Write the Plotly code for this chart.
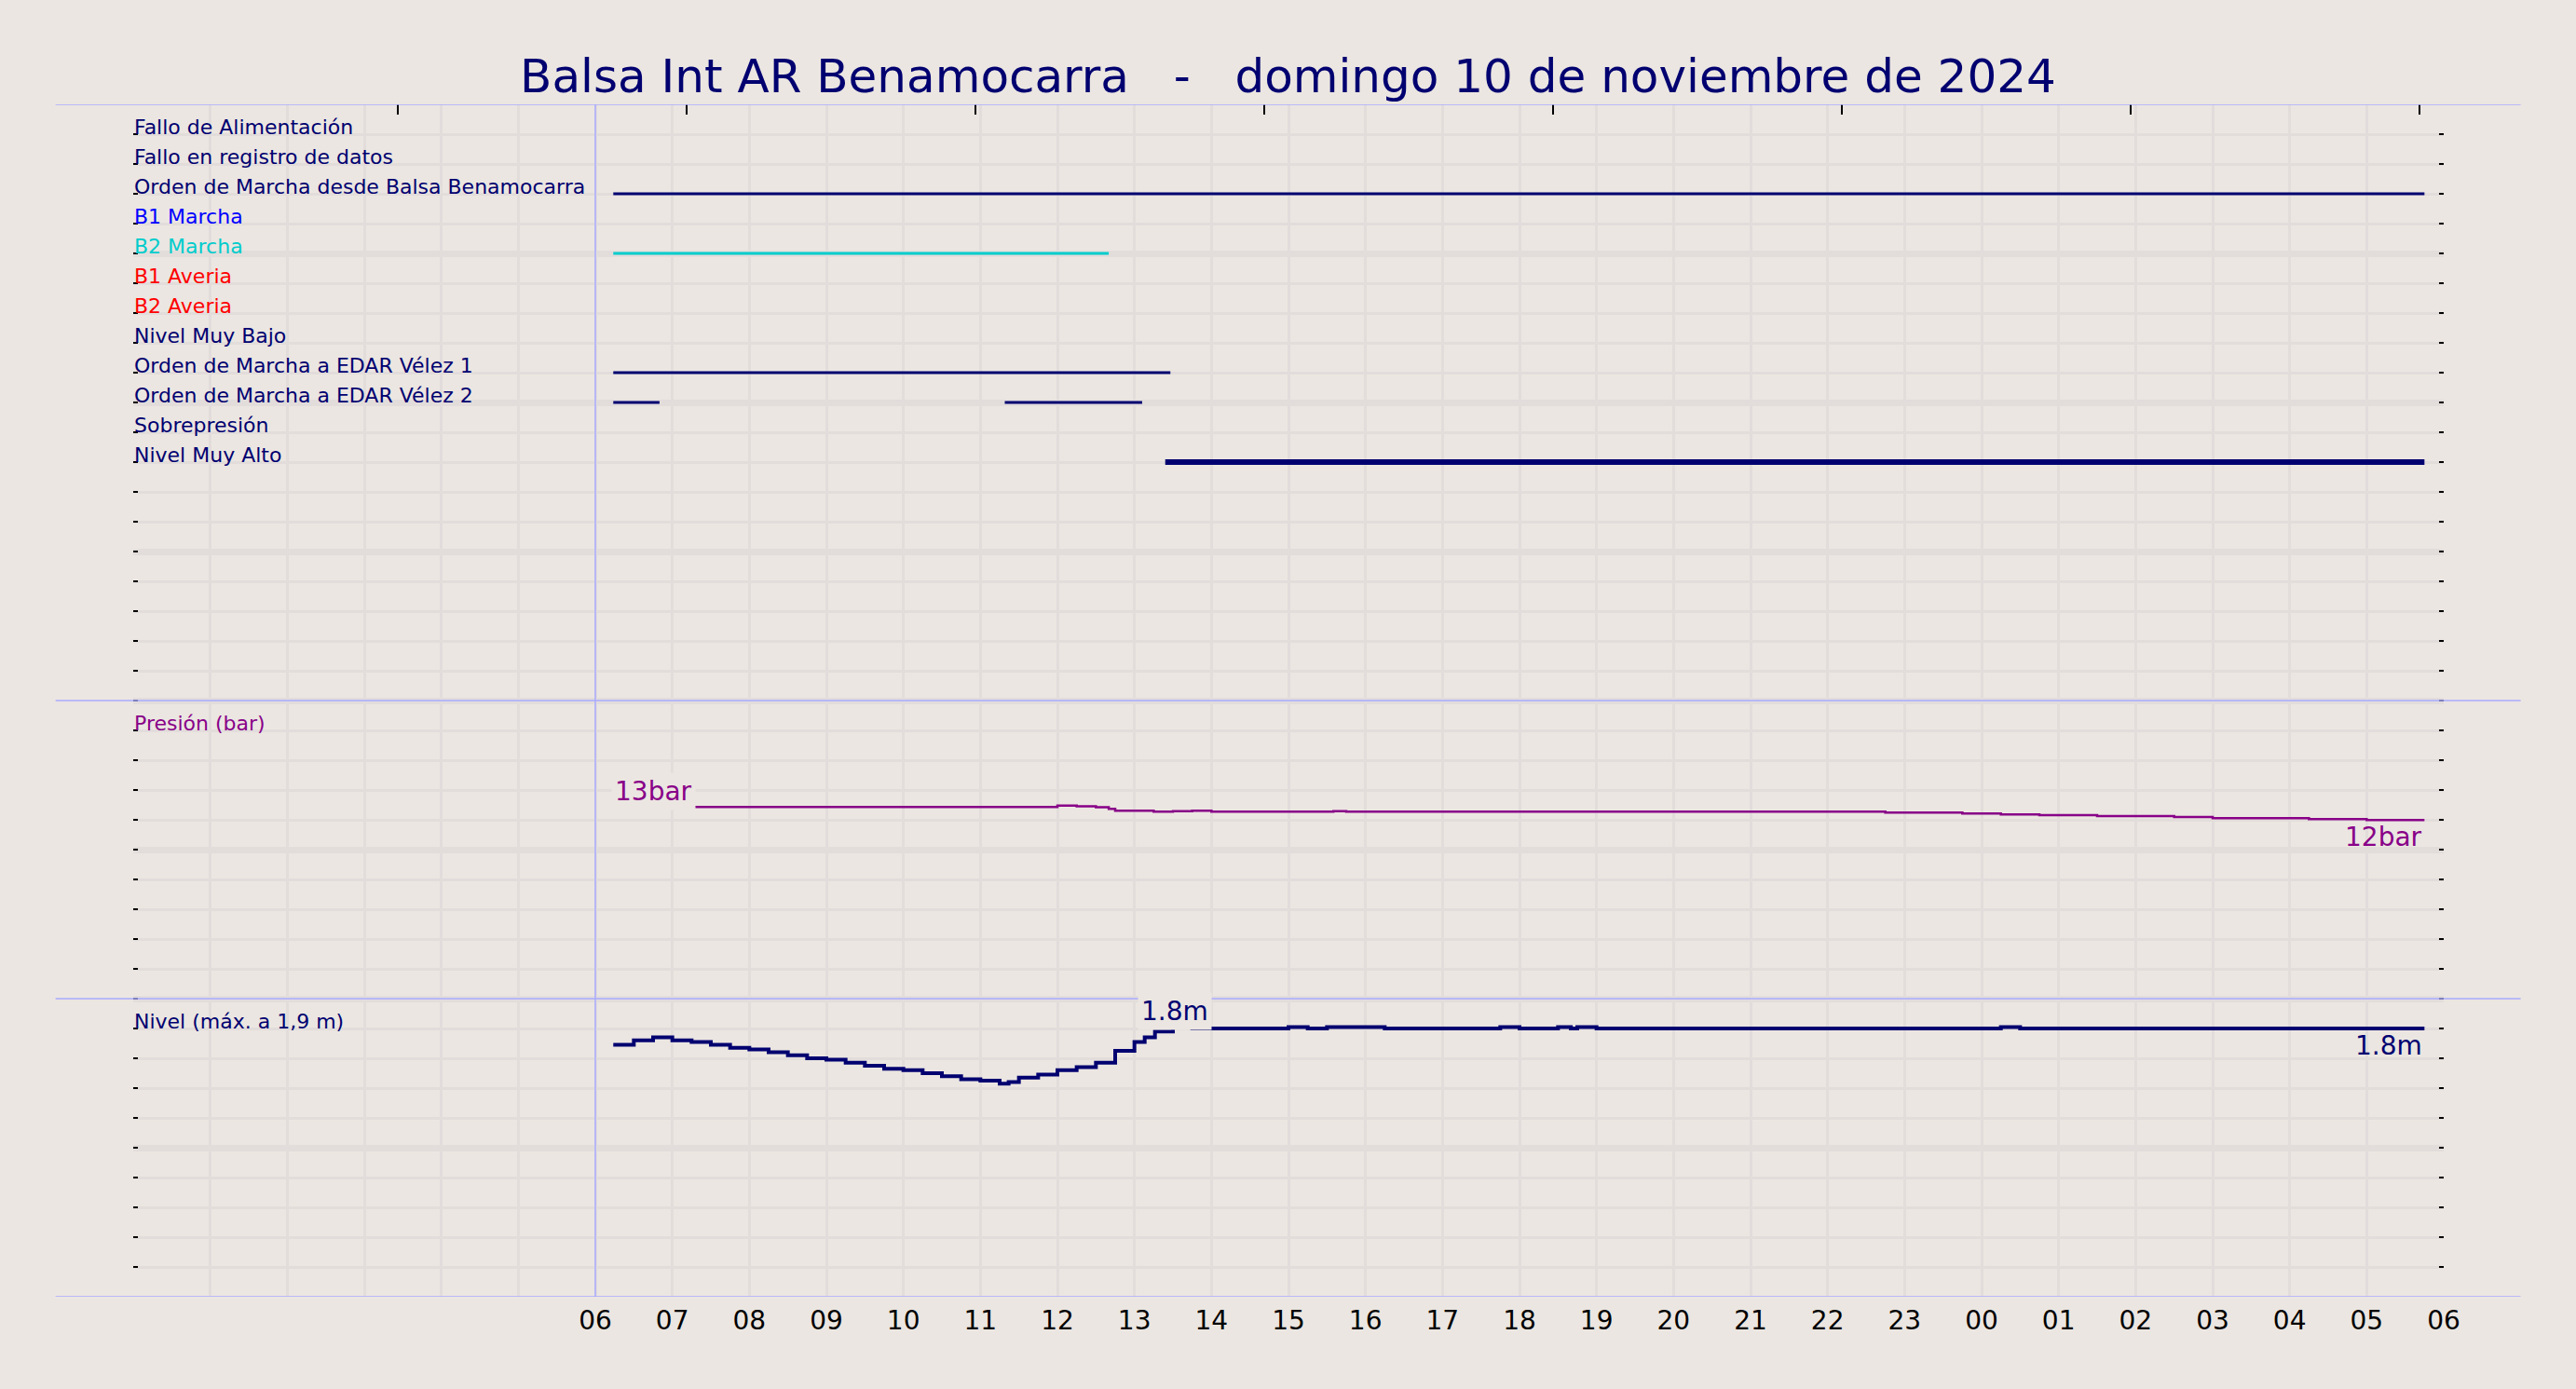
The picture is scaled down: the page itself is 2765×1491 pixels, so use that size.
import plotly.graph_objects as go
import pandas as pd

# ---------------- data ----------------
title_text = "Balsa Int AR Benamocarra   -   domingo 10 de noviembre de 2024"

x_start = "2024-11-10 00:00"
x_end = "2024-11-11 06:00"
day_start = "2024-11-10 06:00"

hour_labels = ["06", "07", "08", "09", "10", "11", "12", "13", "14", "15", "16", "17",
               "18", "19", "20", "21", "22", "23", "00", "01", "02", "03", "04", "05", "06"]

signal_names = [
    "Fallo de Alimentación",
    "Fallo en registro de datos",
    "Orden de Marcha desde Balsa Benamocarra",
    "B1 Marcha",
    "B2 Marcha",
    "B1 Averia",
    "B2 Averia",
    "Nivel Muy Bajo",
    "Orden de Marcha a EDAR Vélez 1",
    "Orden de Marcha a EDAR Vélez 2",
    "Sobrepresión",
    "Nivel Muy Alto",
]

# active intervals (start, end) for each signal
signal_on = [
    [],
    [],
    [("2024-11-10 06:14", "2024-11-11 05:45")],
    [],
    [("2024-11-10 06:14", "2024-11-10 12:40")],
    [],
    [],
    [],
    [("2024-11-10 06:14", "2024-11-10 13:28")],
    [("2024-11-10 06:14", "2024-11-10 06:50"), ("2024-11-10 11:19", "2024-11-10 13:06")],
    [],
    [("2024-11-10 13:24", "2024-11-11 05:45")],
]

# pressure (bar) at change points
pressure_times = ["2024-11-10 06:14", "2024-11-10 12:00", "2024-11-10 12:15", "2024-11-10 12:30",
                  "2024-11-10 12:40", "2024-11-10 12:45", "2024-11-10 13:15", "2024-11-10 13:30",
                  "2024-11-10 13:45", "2024-11-10 14:00", "2024-11-10 15:35", "2024-11-10 15:45",
                  "2024-11-10 22:45", "2024-11-10 23:45", "2024-11-11 00:15", "2024-11-11 00:45",
                  "2024-11-11 01:30", "2024-11-11 02:30", "2024-11-11 03:00", "2024-11-11 04:15",
                  "2024-11-11 05:00", "2024-11-11 05:45"]
pressure_bar = [12.86, 12.96, 12.90, 12.84, 12.73, 12.61, 12.54, 12.58,
                12.61, 12.54, 12.58, 12.54,
                12.48, 12.42, 12.36, 12.31,
                12.25, 12.19, 12.11, 12.04,
                11.98, 11.98]

# level (m) at change points
level_times = ["2024-11-10 06:14", "2024-11-10 06:30", "2024-11-10 06:45", "2024-11-10 07:00",
               "2024-11-10 07:15", "2024-11-10 07:30", "2024-11-10 07:45", "2024-11-10 08:00",
               "2024-11-10 08:15", "2024-11-10 08:30", "2024-11-10 08:45", "2024-11-10 09:00",
               "2024-11-10 09:15", "2024-11-10 09:30", "2024-11-10 09:45", "2024-11-10 10:00",
               "2024-11-10 10:15", "2024-11-10 10:30", "2024-11-10 10:45", "2024-11-10 11:00",
               "2024-11-10 11:15", "2024-11-10 11:22", "2024-11-10 11:30", "2024-11-10 11:45",
               "2024-11-10 12:00", "2024-11-10 12:15", "2024-11-10 12:30", "2024-11-10 12:45",
               "2024-11-10 13:00", "2024-11-10 13:08", "2024-11-10 13:16", "2024-11-10 13:30",
               "2024-11-10 13:45", "2024-11-10 15:00", "2024-11-10 15:15", "2024-11-10 15:30",
               "2024-11-10 16:15", "2024-11-10 17:45", "2024-11-10 18:00", "2024-11-10 18:30",
               "2024-11-10 18:40", "2024-11-10 18:45", "2024-11-10 19:00", "2024-11-11 00:15",
               "2024-11-11 00:30", "2024-11-11 05:45"]
level_m = [1.69, 1.72, 1.74, 1.72,
           1.71, 1.69, 1.67, 1.66,
           1.64, 1.62, 1.60, 1.59,
           1.57, 1.55, 1.53, 1.52,
           1.50, 1.48, 1.46, 1.45,
           1.43, 1.44, 1.47, 1.49,
           1.52, 1.54, 1.57, 1.65,
           1.71, 1.74, 1.78, 1.81,
           1.80, 1.81, 1.80, 1.81,
           1.80, 1.81, 1.80, 1.81,
           1.80, 1.81, 1.80, 1.81,
           1.80, 1.80]

# ---------------- styles ----------------
BG = "#ebe6e1"
GRID = "#e2dddb"
SEP = "#aaaaff"
NAVY = "#000070"
PURPLE = "#880088"
FONT = "DejaVu Sans"

signal_colors = [NAVY, NAVY, NAVY, "#0000ff", "#00cccc", "#ff0000", "#ff0000",
                 NAVY, NAVY, NAVY, NAVY, NAVY]
signal_widths = [3, 3, 3, 3, 3, 3, 3, 3, 3, 3, 3, 6]

TOP_ROW = 39           # y value of first digital row (top band spans 20..40)
PRES_BASE, PRES_SCALE = 10, 0.5     # pressure band: y = base + bar*scale
LEVEL_SCALE = 5                      # level band: y = m*scale
VAL_FONT = 28

fig = go.Figure()

# digital signals
for i, (name, ivs) in enumerate(zip(signal_names, signal_on)):
    row = TOP_ROW - i
    xs, ys = [], []
    for a, b in ivs:
        xs += [a, b, None]
        ys += [row, row, None]
    if xs:
        fig.add_trace(go.Scatter(x=xs, y=ys, mode="lines",
                                 line=dict(color=signal_colors[i], width=signal_widths[i]),
                                 showlegend=False, hoverinfo="skip"))
    fig.add_annotation(x=0, xref="paper", xanchor="left", y=row, yref="y",
                       yanchor="middle", yshift=8, text=name, showarrow=False,
                       borderpad=0, font=dict(family=FONT, size=22, color=signal_colors[i]))

# pressure
pres_y = [PRES_BASE + p * PRES_SCALE for p in pressure_bar]
fig.add_trace(go.Scatter(x=pressure_times, y=pres_y, mode="lines", line_shape="hv",
                         line=dict(color=PURPLE, width=2.5), showlegend=False, hoverinfo="skip"))
fig.add_annotation(x=0, xref="paper", xanchor="left", y=PRES_BASE + 9, yanchor="middle",
                   yshift=8, text="Presión (bar)", showarrow=False, borderpad=0,
                   font=dict(family=FONT, size=22, color=PURPLE))
fig.add_annotation(x=pressure_times[0], y=pres_y[0], xanchor="left", yanchor="bottom",
                   yshift=-4, xshift=-2, text=f"{round(pressure_bar[0])}bar", showarrow=False,
                   bgcolor=BG, borderpad=3, font=dict(family=FONT, size=VAL_FONT, color=PURPLE))
fig.add_annotation(x=pressure_times[-1], y=pres_y[-1], xanchor="right", yanchor="top",
                   text=f"{round(pressure_bar[-1])}bar", showarrow=False,
                   borderpad=1, font=dict(family=FONT, size=VAL_FONT, color=PURPLE))

# level
lev_y = [v * LEVEL_SCALE for v in level_m]
fig.add_trace(go.Scatter(x=level_times, y=lev_y, mode="lines", line_shape="hv",
                         line=dict(color=NAVY, width=4), showlegend=False, hoverinfo="skip"))
fig.add_annotation(x=0, xref="paper", xanchor="left", y=9, yanchor="middle",
                   yshift=8, text="Nivel (máx. a 1,9 m)", showarrow=False, borderpad=0,
                   font=dict(family=FONT, size=22, color=NAVY))
imax = max(range(len(level_m)), key=lambda k: level_m[k])
fig.add_annotation(x=level_times[imax], y=lev_y[imax], xanchor="center", yanchor="bottom",
                   yshift=-4, xshift=2, text=f"{level_m[imax]:.1f}m", showarrow=False,
                   bgcolor=BG, borderpad=3, font=dict(family=FONT, size=VAL_FONT, color=NAVY))
fig.add_annotation(x=level_times[-1], y=lev_y[-1], xanchor="right", yanchor="top",
                   text=f"{level_m[-1]:.1f}m", showarrow=False,
                   borderpad=1, font=dict(family=FONT, size=VAL_FONT, color=NAVY))

# helper trace for the top tick axis
fig.add_trace(go.Scatter(x=[x_start, x_end], y=[None, None], xaxis="x2", mode="lines",
                         showlegend=False, hoverinfo="skip"))

# separators
for yv in (40, 20, 10, 0):
    fig.add_shape(type="line", xref="paper", yref="y", x0=-0.0336, x1=1.0333, y0=yv, y1=yv,
                  line=dict(color=SEP, width=1.5), layer="above")
fig.add_shape(type="line", xref="x", yref="y", x0=day_start, x1=day_start, y0=0, y1=40,
              line=dict(color=SEP, width=1.5), layer="above")

hours = pd.date_range(x_start, x_end, freq="1h")
ticktext = [""] * (len(hours) - len(hour_labels)) + hour_labels

fig.update_layout(
    width=2765, height=1491, autosize=False,
    paper_bgcolor=BG, plot_bgcolor=BG,
    margin=dict(l=143, r=142, t=112, b=99, pad=0),
    title=dict(text=title_text.replace(" ", "\u00a0"), x=0.5, xanchor="center",
               y=1 - 81 / 1491, yanchor="middle", yref="container",
               font=dict(family=FONT, size=50, color=NAVY)),
    showlegend=False,
    xaxis=dict(type="date", range=[x_start, x_end], tickmode="array",
               tickvals=list(hours), ticktext=ticktext, showgrid=True,
               gridcolor=GRID, gridwidth=2.5, zeroline=False, showline=False,
               ticks="", ticklabelstandoff=6,
               tickfont=dict(family=FONT, size=28, color="black")),
    xaxis2=dict(type="date", overlaying="x", side="top", matches="x",
                tickmode="linear", tick0="2024-11-10 03:26", dtick=13500000,
                ticks="inside", ticklen=11, tickwidth=1.5, tickcolor="black",
                showticklabels=False, showgrid=False, zeroline=False, showline=False),
    yaxis=dict(range=[0, 40], tickmode="linear", tick0=0, dtick=5, showgrid=True,
               gridcolor=GRID, gridwidth=7, zeroline=False, showline=False,
               ticks="inside", ticklen=5, tickwidth=1.5, tickcolor="black",
               mirror="ticks", showticklabels=False,
               minor=dict(dtick=1, tick0=0, showgrid=True, gridcolor=GRID, gridwidth=2.7,
                          ticks="inside", ticklen=5, tickwidth=1.5, tickcolor="black")),
)

fig.write_html("out.html", config={"displayModeBar": False},
               post_script="document.body.style.margin='0';document.body.style.overflow='hidden';")
